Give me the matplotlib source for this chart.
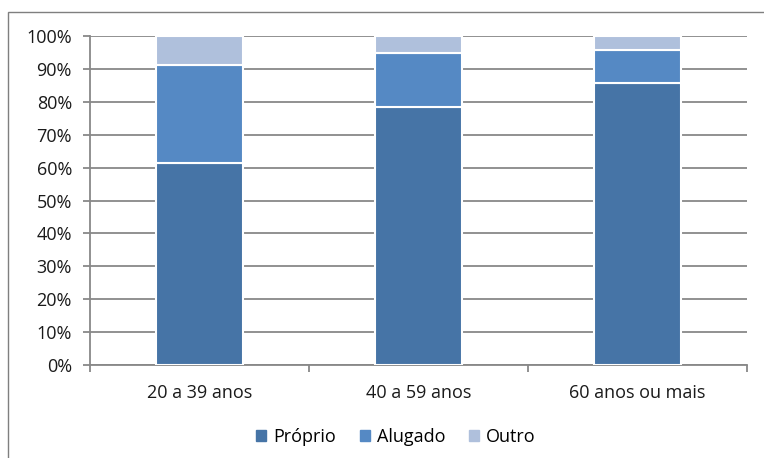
import matplotlib
matplotlib.use('Agg')
import matplotlib.pyplot as plt
import matplotlib.patches as mpatches
import numpy as np
from matplotlib.ticker import FuncFormatter, FixedLocator

categories = ['20 a 39 anos', '40 a 59 anos', '60 anos ou mais']
proprio = [61.3, 78.4, 85.8]
alugado = [29.9, 16.3, 9.8]
outro = [8.8, 5.3, 4.4]
series_names = ['Próprio', 'Alugado', 'Outro']
colors = ['#4674A6', '#5589C4', '#AFC0DC']

plt.rcParams['font.family'] = ['Open Sans', 'DejaVu Sans']
plt.rcParams['font.size'] = 13

fig = plt.figure(figsize=(7.64, 4.58), dpi=100)
ax = fig.add_axes([90/764, 1 - 365/458, (747 - 90)/764, (365 - 36)/458])

# outer chart border
fig.patches.append(mpatches.Rectangle((8/764, -0.05), 1.2, 1 - 12/458 + 0.05,
                                      transform=fig.transFigure, fill=False,
                                      edgecolor='#7f7f7f', linewidth=1))

x = np.arange(len(categories))
bottom = np.zeros(len(categories))
for vals, name, c in zip([proprio, alugado, outro], series_names, colors):
    ax.bar(x, vals, 0.4, bottom=bottom, color=c, edgecolor='white',
           linewidth=1.5, label=name, zorder=3)
    bottom += np.array(vals)

ax.set_xlim(-0.5, len(categories) - 0.5)
ax.set_ylim(0, 100)
ax.set_yticks(np.arange(0, 101, 10))
ax.yaxis.set_major_formatter(FuncFormatter(lambda v, p: f'{int(v)}%'))
ax.set_xticks(x)
ax.set_xticklabels(categories)
ax.xaxis.set_minor_locator(FixedLocator([-0.5, 0.5, 1.5, 2.5]))
ax.tick_params(axis='x', which='major', length=0, pad=14, colors='#1a1a1a')
ax.tick_params(axis='x', which='minor', length=5, color='#888888', width=1.3)
ax.tick_params(axis='y', length=5, color='#888888', width=1.3, pad=8,
               labelcolor='#1a1a1a')

ax.grid(axis='y', color='#888888', linewidth=1.3, zorder=0)
for s in ['top', 'right']:
    ax.spines[s].set_visible(False)
for s in ['left', 'bottom']:
    ax.spines[s].set_color('#888888')
    ax.spines[s].set_linewidth(1.3)

handles = [mpatches.Patch(color=c, label=n) for c, n in zip(colors, series_names)]
fig.legend(handles=handles, loc='center', bbox_to_anchor=(396/764, 1 - 437/458),
           ncol=3, frameon=False, handlelength=0.55, handleheight=0.55,
           handletextpad=0.4, columnspacing=1.3)

fig.savefig('out.png', dpi=100)
